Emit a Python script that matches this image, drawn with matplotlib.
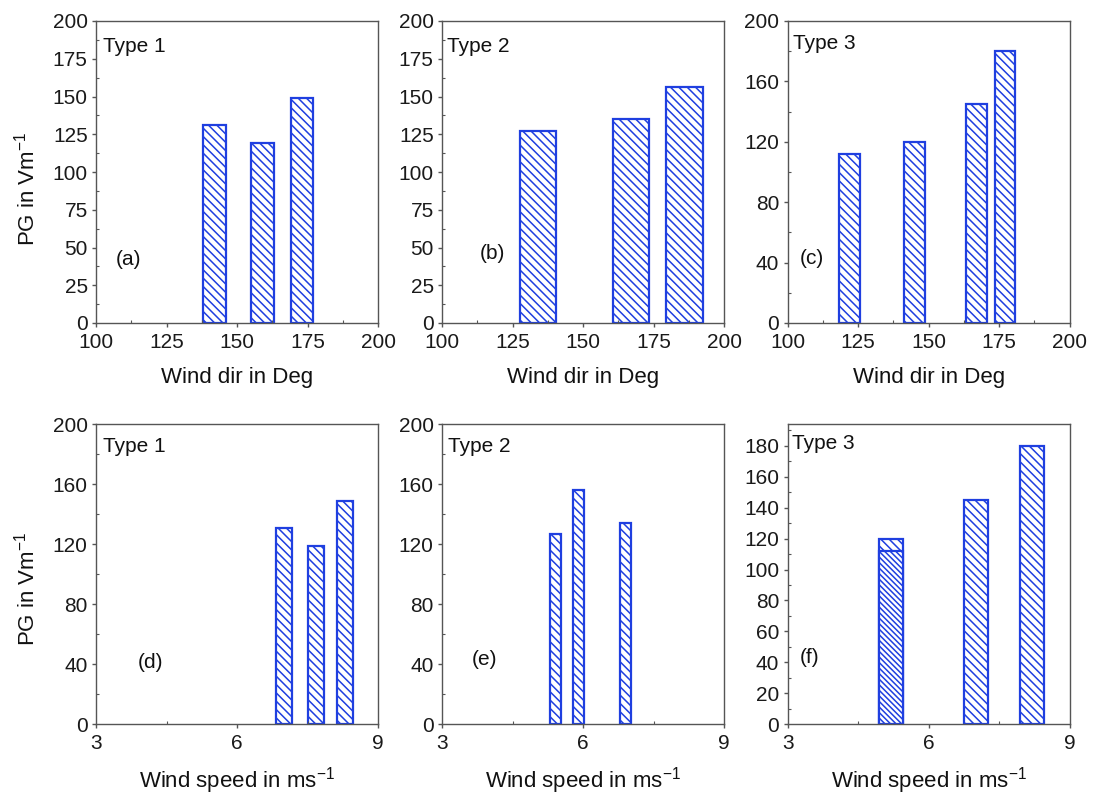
import matplotlib
matplotlib.use("Agg")
import matplotlib.pyplot as plt
from matplotlib.ticker import MultipleLocator

plt.rcParams['font.family'] = ['Liberation Sans', 'DejaVu Sans']
plt.rcParams['mathtext.default'] = 'regular'
plt.rcParams['hatch.linewidth'] = 1.1

# ---- data ----
dir_t1 = [142, 159, 173]
pg_t1 = [131, 119, 149]
dir_t2 = [134, 167, 186]
pg_t2 = [127, 135, 156]
dir_t3 = [122, 145, 167, 177]
pg_t3 = [112, 120, 145, 180]

spd_t1 = [7.0, 7.69, 8.29]
pg_s1 = [131, 119, 149]
spd_t2 = [5.41, 5.90, 6.91]
pg_s2 = [127, 156, 134]
spd_t3 = [5.2, 5.2, 7.0, 8.2]
pg_s3 = [120, 112, 145, 180]

type_labels = ["Type 1", "Type 2", "Type 3"]
panel_labels = ["(a)", "(b)", "(c)", "(d)", "(e)", "(f)"]

BLUE = '#1f3fe0'
SPINE = '#555555'
FS = 15
LFS = 16

fig = plt.figure(figsize=(11.03, 7.96), dpi=100)

lefts = [96/1103, 442/1103, 787.7/1103]
w = 282/1103
top_b, top_h = 1-323/796, 302/796
bot_b, bot_h = 1-724.3/796, 300.3/796

def style(ax):
    for s in ax.spines.values():
        s.set_color(SPINE)
        s.set_linewidth(1.0)
    ax.tick_params(which='major', direction='out', length=3, width=1,
                   color=SPINE, labelsize=FS, labelcolor='#1a1a1a')
    ax.tick_params(axis='x', which='major', pad=4)
    ax.tick_params(axis='y', which='major', pad=3)
    ax.tick_params(which='minor', direction='in', length=2.5, width=0.8, color=SPINE)

def bars(ax, x, y, width, hatches=None):
    for i, (xi, yi) in enumerate(zip(x, y)):
        h = hatches[i] if hatches else '\\\\\\\\'
        ax.bar(xi, yi, width=width, facecolor='white', edgecolor=BLUE,
               hatch=h, linewidth=1.6)

configs = [
    # x, y, width, xlim, xmaj, xmin, ylim, ymaj, ymin, type idx, type pos, panel pos
    (dir_t1, pg_t1, 8, (100, 200), 25, 12.5, (0, 200), 25, 12.5, 0, (102.5, 183), (111.5, 42)),
    (dir_t2, pg_t2, 13, (100, 200), 25, 12.5, (0, 200), 25, 12.5, 1, (101.7, 183), (118, 46)),
    (dir_t3, pg_t3, 7.3, (100, 200), 25, 12.5, (0, 200), 40, 20, 2, (101.9, 185), (108.6, 43)),
    (spd_t1, pg_s1, 0.34, (3, 9), 3, 1.5, (0, 200), 40, 20, 0, (3.15, 185), (4.15, 41)),
    (spd_t2, pg_s2, 0.24, (3, 9), 3, 1.5, (0, 200), 40, 20, 1, (3.12, 185), (3.91, 43)),
    (spd_t3, pg_s3, 0.51, (3, 9), 3, 1.5, (0, 194), 20, 10, 2, (3.1, 181.5), (3.47, 43)),
]

for k, cfg in enumerate(configs):
    x, y, wd, xlim, xmaj, xmin, ylim, ymaj, ymin, ti, tpos, ppos = cfg
    row, col = divmod(k, 3)
    b, h = (top_b, top_h) if row == 0 else (bot_b, bot_h)
    ax = fig.add_axes([lefts[col], b, w, h])
    if k == 5:
        bars(ax, x, y, wd, hatches=['\\\\\\\\', '\\\\\\\\\\\\', '\\\\\\\\', '\\\\\\\\'])
    else:
        bars(ax, x, y, wd)
    ax.set_xlim(*xlim)
    ax.set_ylim(*ylim)
    ax.xaxis.set_major_locator(MultipleLocator(xmaj))
    ax.xaxis.set_minor_locator(MultipleLocator(xmin))
    ax.yaxis.set_major_locator(MultipleLocator(ymaj))
    ax.yaxis.set_minor_locator(MultipleLocator(ymin))
    style(ax)
    ax.text(tpos[0], tpos[1], type_labels[ti], fontsize=FS, va='center', ha='left', color='#111')
    ax.text(ppos[0], ppos[1], panel_labels[k], fontsize=FS, va='center', ha='center', color='#111')
    if row == 0:
        ax.set_xlabel('Wind dir in Deg', fontsize=LFS, color='#111')
        ax.xaxis.set_label_coords(0.5, -0.146)
    else:
        ax.set_xlabel('Wind speed in ms$^{-1}$', fontsize=LFS, color='#111')
        ax.xaxis.set_label_coords(0.5, -0.135)
    if col == 0:
        ax.set_ylabel('PG in Vm$^{-1}$', fontsize=LFS, color='#111')
        ax.yaxis.set_label_coords(-0.2, 0.444 if row == 0 else 0.451)

fig.savefig('out.png', dpi=100)
